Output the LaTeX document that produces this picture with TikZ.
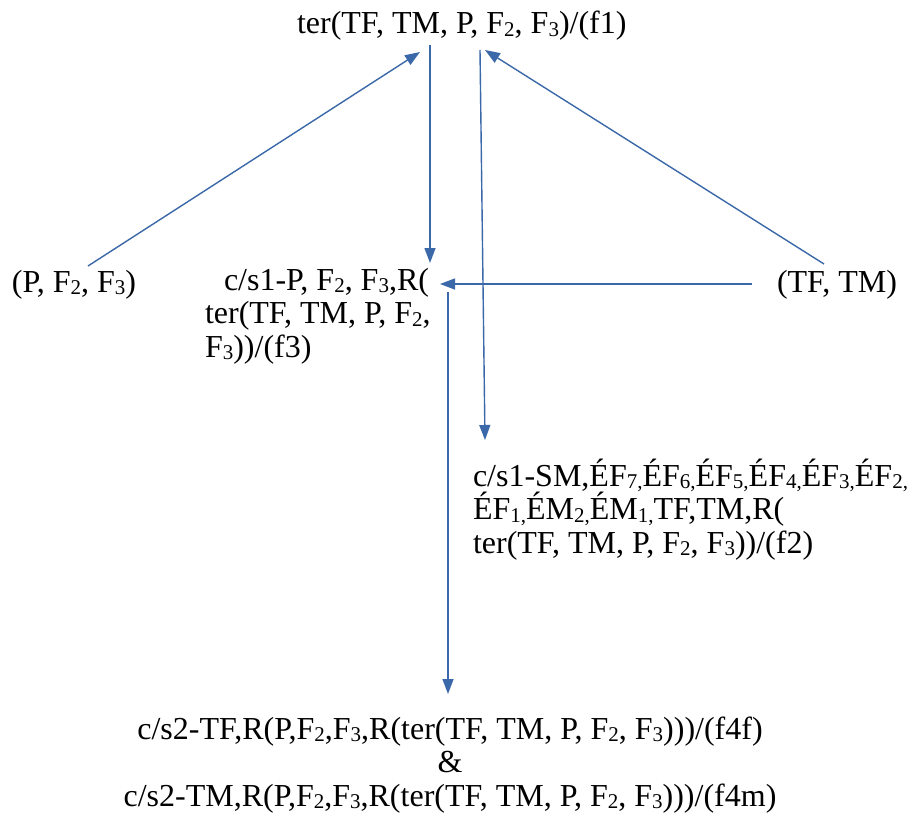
\documentclass[tikz,border=0pt]{standalone}
\usepackage{fontspec}
\setmainfont{Liberation Serif}
\usetikzlibrary{arrows.meta}
\definecolor{arrowblue}{HTML}{3B68A8}
\newcommand\sbx[1]{\raisebox{-2.5pt}{\fontsize{21}{21}\selectfont #1}}
\tikzset{
  lbl/.style={inner sep=0pt, outer sep=0pt, font=\fontsize{32}{33.5}\selectfont},
  conn/.style={draw=arrowblue, line width=1.4pt, -{Triangle[length=15pt,width=11pt]}}
}
\begin{document}
\begin{tikzpicture}[x=1pt,y=-1pt]
\useasboundingbox[fill=white] (0,0) rectangle (921,816);
% nodes (multi-line nodes are anchored at the baseline of their last line)
\node[lbl, anchor=base west] (top) at (297,34) {ter(TF, TM, P, F\sbx{2}, F\sbx{3})/(f1)};
\node[lbl, anchor=base west] (pff) at (12,292) {(P, F\sbx{2}, F\sbx{3})};
\node[lbl, anchor=base west] (tftm) at (777,292) {(TF, TM)};
\node[lbl, anchor=base west, align=left] (f3) at (205,357)
  {\hspace*{19pt}c/s1-P, F\sbx{2}, F\sbx{3},R(\\ter(TF, TM, P, F\sbx{2},\\F\sbx{3}))/(f3)};
\node[lbl, anchor=base west, align=left] (f2) at (473,553)
  {c/s1-SM,ÉF\sbx{7,}ÉF\sbx{6,}ÉF\sbx{5,}ÉF\sbx{4,}ÉF\sbx{3,}ÉF\sbx{2,}\\ÉF\sbx{1,}ÉM\sbx{2,}ÉM\sbx{1,}TF,TM,R(\\ter(TF, TM, P, F\sbx{2}, F\sbx{3}))/(f2)};
\node[lbl, anchor=base, align=center] (f4) at (450,806)
  {c/s2-TF,R(P,F\sbx{2},F\sbx{3},R(ter(TF, TM, P, F\sbx{2}, F\sbx{3})))/(f4f)\\\&\\c/s2-TM,R(P,F\sbx{2},F\sbx{3},R(ter(TF, TM, P, F\sbx{2}, F\sbx{3})))/(f4m)};
% connector end points
\coordinate (a1s) at (88,266);
\coordinate (a1e) at (420,52);
\coordinate (a2s) at (430,45);
\coordinate (a2e) at (430,263);
\coordinate (a3s) at (480,50);
\coordinate (a3e) at (485,440);
\coordinate (a4s) at (824,264);
\coordinate (a4e) at (485,50);
\coordinate (a5s) at (752,284);
\coordinate (a5e) at (440,284);
\coordinate (a6s) at (448,292);
\coordinate (a6e) at (448,694);
% connectors
\draw[conn] (a1s) -- (a1e);
\draw[conn] (a2s) -- (a2e);
\draw[conn] (a3s) -- (a3e);
\draw[conn] (a4s) -- (a4e);
\draw[conn] (a5s) -- (a5e);
\draw[conn] (a6s) -- (a6e);
\end{tikzpicture}
\end{document}
